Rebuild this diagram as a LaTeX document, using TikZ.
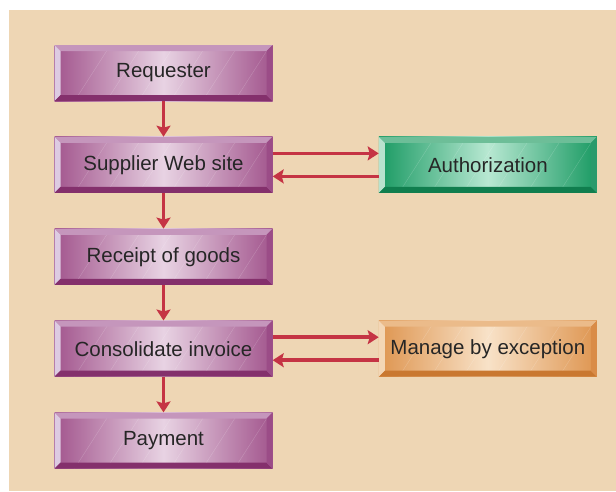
\documentclass[tikz,border=0pt]{standalone}
\usepackage{fontspec}
\setmainfont{Liberation Sans}
\usetikzlibrary{arrows.meta, positioning}

\definecolor{bgbeige}{HTML}{EED6B4}
\definecolor{flowred}{HTML}{C53444}
\definecolor{labelgray}{HTML}{262626}
% purple boxes
\definecolor{purpface}{HTML}{A2558D}
\definecolor{purplite}{HTML}{E8D3E3}
\definecolor{purptop}{HTML}{C596BC}
\definecolor{purpleft}{HTML}{DDCBE2}
\definecolor{purpbot}{HTML}{84306C}
\definecolor{purpright}{HTML}{9B4C87}
% green box
\definecolor{grnface}{HTML}{1A9A63}
\definecolor{grnlite}{HTML}{B8E8D2}
\definecolor{grntop}{HTML}{6DBE98}
\definecolor{grnleft}{HTML}{B9E2CE}
\definecolor{grnbot}{HTML}{107E4E}
\definecolor{grnright}{HTML}{2A9A6C}
% orange box
\definecolor{orgface}{HTML}{DE9550}
\definecolor{orglite}{HTML}{F8E2C8}
\definecolor{orgtop}{HTML}{EBBB8A}
\definecolor{orgleft}{HTML}{F3D6B5}
\definecolor{orgbot}{HTML}{C97830}
\definecolor{orgright}{HTML}{D98C48}

\begin{document}
\begin{tikzpicture}[
    x=1pt, y=-1pt,
    node distance=35.5pt and 106pt,
    bevel/.style n args={6}{
      left color=#1, right color=#1, middle color=#2,
      path picture={
        \coordinate (bnw) at (path picture bounding box.north west);
        \coordinate (bne) at (path picture bounding box.north east);
        \coordinate (bsw) at (path picture bounding box.south west);
        \coordinate (bse) at (path picture bounding box.south east);
        \coordinate (inw) at ([shift={(6pt,-6pt)}]bnw);
        \coordinate (ine) at ([shift={(-6pt,-6pt)}]bne);
        \coordinate (isw) at ([shift={(6pt,6pt)}]bsw);
        \coordinate (ise) at ([shift={(-6pt,6pt)}]bse);
        % faint diagonal sheen
        \foreach \d in {20,52,84,116,148,180}
          \draw[white, opacity=0.2, line width=0.4pt] ([xshift=\d pt]bsw) -- ++(36pt,56pt);
        \fill[#3] (bnw) -- (bne) -- (ine) -- (inw) -- cycle;
        \fill[#4] (bnw) -- (inw) -- (isw) -- (bsw) -- cycle;
        \fill[#5] (bsw) -- (isw) -- (ise) -- (bse) -- cycle;
        \fill[#6] (bne) -- (bse) -- (ise) -- (ine) -- cycle;
      }},
    box/.style={minimum width=218pt, minimum height=56pt, inner sep=0pt,
      text=labelgray, font=\fontsize{20.5}{24}\selectfont},
    pbox/.style={box, bevel={purpface}{purplite}{purptop}{purpleft}{purpbot}{purpright}},
    gbox/.style={box, bevel={grnface}{grnlite}{grntop}{grnleft}{grnbot}{grnright}},
    obox/.style={box, bevel={orgface}{orglite}{orgtop}{orgleft}{orgbot}{orgright}},
    flow/.style={-{Stealth[length=11pt, width=14pt, inset=2pt]}, line width=3.5pt, flowred},
  ]

  % Background
  \useasboundingbox (0,0) rectangle (616,491);
  \fill[bgbeige] (9,10) rectangle (616,491);

  % Main process column
  \node[pbox] (req) at (163.5,73) {Requester};
  \node[pbox, below=of req] (sup) {Supplier Web site};
  \node[pbox, below=of sup] (rec) {Receipt of goods};
  \node[pbox, below=of rec] (cons) {Consolidate invoice};
  \node[pbox, below=of cons] (pay) {Payment};

  % Side steps
  \node[gbox, right=of sup] (auth) {Authorization};
  \node[obox, right=of cons] (mbe) {Manage by exception};

  % Arrows down the column
  \draw[flow] (req) -- (sup);
  \draw[flow] (sup) -- (rec);
  \draw[flow] (rec) -- (cons);
  \draw[flow] (cons) -- (pay);

  % Arrows to and from the side steps
  \draw[flow] ([yshift=11.5pt]sup.east) -- ([yshift=11.5pt]auth.west);
  \draw[flow] ([yshift=-11.5pt]auth.west) -- ([yshift=-11.5pt]sup.east);
  \draw[flow] ([yshift=11.5pt]cons.east) -- ([yshift=11.5pt]mbe.west);
  \draw[flow] ([yshift=-11.5pt]mbe.west) -- ([yshift=-11.5pt]cons.east);

\end{tikzpicture}
\end{document}
